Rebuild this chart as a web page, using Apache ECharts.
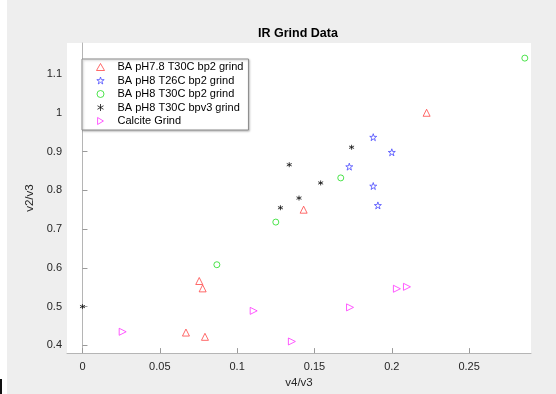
<!DOCTYPE html>
<html>
<head>
<meta charset="utf-8">
<script src="https://cdn.jsdelivr.net/npm/echarts@6/dist/echarts.min.js"></script>
<style>
  html, body { margin: 0; padding: 0; background: #fff; }
  #chart { width: 556px; height: 394px; }
</style>
</head>
<body>
<div id="chart"></div>
<script>
// values
const redX = [0.2225, 0.143, 0.0755, 0.0777, 0.0669, 0.0792];
const redY = [1.0, 0.750, 0.566, 0.547, 0.433, 0.422];
const blueX = [0.188, 0.200, 0.1725, 0.188, 0.191];
const blueY = [0.937, 0.898, 0.861, 0.811, 0.761];
const greenX = [0.167, 0.125, 0.0869, 0.286];
const greenY = [0.832, 0.718, 0.608, 1.141];
const blackX = [0, 0.1337, 0.140, 0.128, 0.174, 0.154];
const blackY = [0.5, 0.866, 0.780, 0.755, 0.911, 0.819];
const calciteX = [0.026, 0.1107, 0.1354, 0.173, 0.2033, 0.2098];
const calciteY = [0.435, 0.489, 0.41, 0.498, 0.546, 0.551];

const xTicks = [0, 0.05, 0.1, 0.15, 0.2, 0.25];
const yTicks = [0.4, 0.5, 0.6, 0.7, 0.8, 0.9, 1, 1.1];

const font = 'Liberation Sans, Arial, Helvetica, sans-serif';
const starPath = 'path://M0,-10 L2.25,-3.09 L9.51,-3.09 L3.63,1.18 L5.88,8.09 L0,3.82 L-5.88,8.09 L-3.63,1.18 L-9.51,-3.09 L-2.25,-3.09 Z';
const asteriskPath = 'path://M0,-10 L0,10 M-8.66,-5 L8.66,5 M-8.66,5 L8.66,-5';
const rightTriPath = 'path://M0,0 L10,6 L0,12 Z';

const groups = [
  { name: 'BA pH7.8 T30C bp2 grind', xs: redX, ys: redY, symbol: 'triangle', size: 7, color: '#ff4545' },
  { name: 'BA pH8 T26C bp2 grind', xs: blueX, ys: blueY, symbol: starPath, size: 7, color: '#4a4aff' },
  { name: 'BA pH8 T30C bp2 grind', xs: greenX, ys: greenY, symbol: 'circle', size: 6, color: '#22dd22' },
  { name: 'BA pH8 T30C bpv3 grind', xs: blackX, ys: blackY, symbol: asteriskPath, size: 5, color: '#111111' },
  { name: 'Calcite Grind', xs: calciteX, ys: calciteY, symbol: rightTriPath, size: 7, color: '#ff33ff' }
];

function pairs(xs, ys) {
  return xs.map((x, i) => [x, ys[i]]);
}

const myChart = echarts.init(document.getElementById('chart'));

const option = {
  backgroundColor: '#eeeeee',
  animation: false,
  graphic: [
    // white strip on the left and the little dark bar in the corner
    { type: 'rect', left: 0, top: 0, shape: { width: 7, height: 394 }, style: { fill: '#fff' }, z: -10 },
    { type: 'rect', left: 0, top: 379, shape: { width: 2, height: 15 }, style: { fill: '#111' } }
  ],
  title: {
    text: 'IR Grind Data',
    left: 258,
    top: 27,
    padding: 0,
    textStyle: { fontFamily: font, fontSize: 12.5, fontWeight: 'bold', color: '#000' }
  },
  grid: {
    left: 67,
    top: 43,
    width: 464,
    height: 311,
    show: true,
    backgroundColor: '#fff',
    borderWidth: 0
  },
  legend: {
    orient: 'vertical',
    left: 82,
    top: 59,
    padding: [2, 5, 3, 14],
    itemWidth: 8,
    itemHeight: 7,
    itemGap: 1.5,
    backgroundColor: '#fff',
    borderColor: '#8c8c8c',
    borderWidth: 1,
    shadowColor: 'rgba(0,0,0,0.25)',
    shadowBlur: 2,
    shadowOffsetX: 1,
    shadowOffsetY: 1,
    textStyle: { fontFamily: font, fontSize: 11, color: '#000', lineHeight: 12, padding: [0, 0, 0, 8] },
    selectedMode: false,
    data: groups.map(g => ({
      name: g.name,
      icon: g.symbol,
      itemStyle: { color: 'rgba(255,255,255,0)', borderColor: g.color, borderWidth: 1 }
    }))
  },
  xAxis: {
    type: 'value',
    min: -0.01,
    max: 0.29,
    name: 'v4/v3',
    nameLocation: 'middle',
    nameGap: 21,
    nameTextStyle: { fontFamily: font, fontSize: 11.5, color: '#262626' },
    axisLine: { show: true, lineStyle: { color: '#b5b5b5' } },
    axisTick: { show: true, inside: true, length: 5, customValues: xTicks, lineStyle: { color: '#9a9a9a' } },
    axisLabel: { customValues: xTicks, fontFamily: font, fontSize: 11, color: '#262626', margin: 8 },
    splitLine: { show: false }
  },
  yAxis: {
    type: 'value',
    min: 0.38,
    max: 1.18,
    name: 'v2/v3',
    nameLocation: 'middle',
    nameGap: 31,
    nameTextStyle: { fontFamily: font, fontSize: 11.5, color: '#262626' },
    axisLine: { show: true, lineStyle: { color: '#b5b5b5' } },
    axisTick: { show: true, inside: true, length: 5, customValues: yTicks, lineStyle: { color: '#9a9a9a' } },
    axisLabel: { customValues: yTicks, fontFamily: font, fontSize: 11, color: '#262626', margin: 5 },
    splitLine: { show: false }
  },
  series: groups.map(g => ({
    name: g.name,
    type: 'scatter',
    symbol: g.symbol,
    symbolSize: g.size,
    itemStyle: { color: 'rgba(255,255,255,0)', borderColor: g.color, borderWidth: 1 },
    emphasis: { disabled: true },
    data: pairs(g.xs, g.ys)
  }))
};

option && myChart.setOption(option);
</script>
</body>
</html>
